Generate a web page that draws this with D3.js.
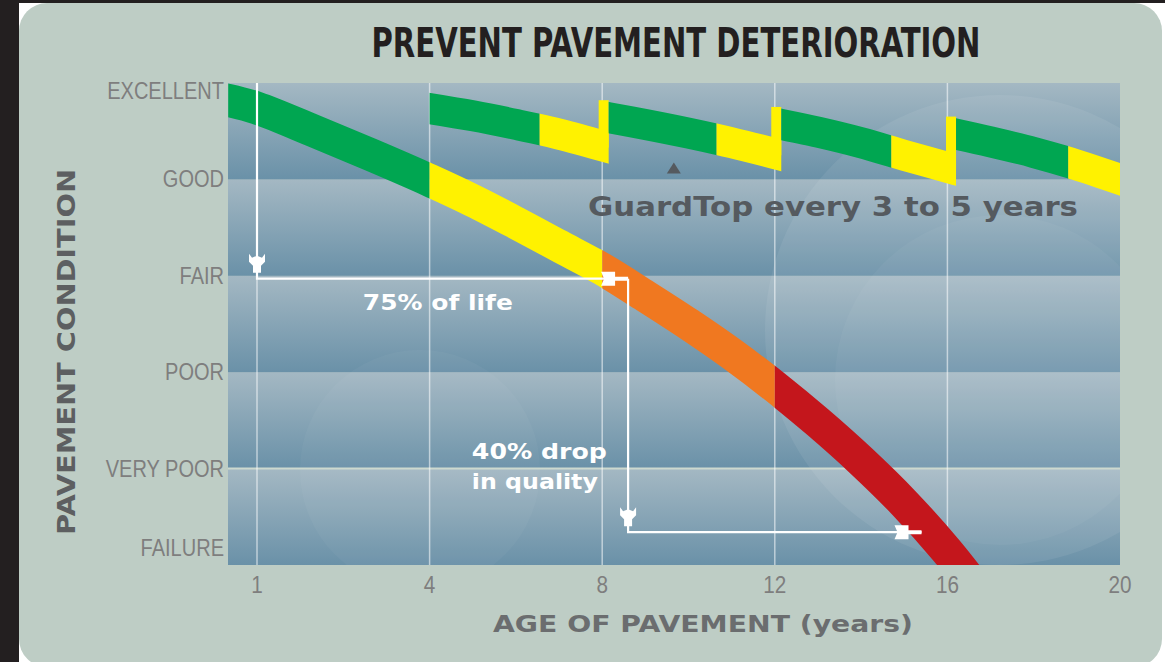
<!DOCTYPE html>
<html>
<head>
<meta charset="utf-8">
<script src="https://cdn.jsdelivr.net/npm/d3@7"></script>
<style>
  html, body { margin: 0; padding: 0; background: #fff; }
  svg { display: block; }
</style>
</head>
<body>
<svg id="chart" width="1165" height="662"></svg>
<script>
// Condition levels, from 0 (failure) up to 5 (excellent)
const conditions = ['FAILURE', 'VERY POOR', 'POOR', 'FAIR', 'GOOD', 'EXCELLENT'];
const ageTicks = [1, 4, 8, 12, 16, 20];

// Untreated pavement: [age in years, condition]
const untreated = [
  [0.5, 4.82], [1, 4.74], [2, 4.5], [3, 4.25], [4, 3.99], [5, 3.78], [6, 3.55],
  [7, 3.31], [8, 3.07], [9, 2.79], [10, 2.5], [11, 2.19], [12, 1.85], [13, 1.48],
  [14, 1.08], [15, 0.64], [16, 0.14], [16.6, -0.2]
];
const stageBreaks = [0.5, 4, 8, 12, 20];
const stageColors = ['#00a651', '#fff200', '#f07820', '#c4161c'];

// GuardTop cycles: each resurfacing starts a new curve
const guardTop = [
  [[4, 4.735], [5, 4.66], [6, 4.57], [7, 4.47], [8.15, 4.33]],
  [[8.15, 4.64], [9, 4.57], [10, 4.48], [11, 4.38], [12.15, 4.25]],
  [[12.15, 4.57], [13, 4.49], [14, 4.38], [15, 4.25], [16.2, 4.1]],
  [[16.2, 4.47], [17, 4.39], [18, 4.28], [19, 4.15], [20, 4.0]]
];
const guardTurnYellow = [6.55, 10.65, 14.7, 18.8];

// Annotation arrows
const lifeArrow = [[1, 5], [1, 2.97], [8.6, 2.97]];
const dropArrow = [[8.6, 2.97], [8.6, 0.34], [15.4, 0.34]];

const svg = d3.select('#chart');
const W = 1165, H = 662;
const plot = { left: 228, right: 1120, top: 83, bottom: 565 };

// x axis: tick years are evenly spaced on the page
const tickStep = (plot.right - 257) / (ageTicks.length - 1);
const x = d3.scaleLinear()
  .domain(ageTicks)
  .range(ageTicks.map((d, i) => 257 + i * tickStep));
// ages below 1 continue the first segment
const xs = t => t < 1 ? x(1) - (1 - t) * tickStep / 3 : x(t);

const y = d3.scaleLinear().domain([0, 5]).range([plot.bottom, plot.top]);

// page frame
svg.append('rect').attr('width', W).attr('height', H).attr('fill', '#fff');
svg.append('rect').attr('width', 19).attr('height', H).attr('fill', '#231f20');
svg.append('rect').attr('width', W).attr('height', 3).attr('fill', '#231f20');
svg.append('rect')
  .attr('x', 19).attr('y', 3).attr('width', 1143).attr('height', 664)
  .attr('rx', 28).attr('fill', '#becdc5');

const defs = svg.append('defs');
const grad = defs.append('linearGradient').attr('id', 'band')
  .attr('x1', 0).attr('y1', 0).attr('x2', 0).attr('y2', 1);
grad.append('stop').attr('offset', 0).attr('stop-color', '#a4b8c3');
grad.append('stop').attr('offset', 1).attr('stop-color', '#6a91a8');

defs.append('clipPath').attr('id', 'plotClip')
  .append('rect')
  .attr('x', plot.left).attr('y', plot.top)
  .attr('width', plot.right - plot.left).attr('height', plot.bottom - plot.top);

// condition bands
svg.append('g').selectAll('rect')
  .data(d3.range(5))
  .join('rect')
  .attr('x', plot.left)
  .attr('y', d => y(d + 1))
  .attr('width', plot.right - plot.left)
  .attr('height', d => y(d) - y(d + 1))
  .attr('fill', 'url(#band)');

// faint watermark shapes
const wm = svg.append('g').attr('clip-path', 'url(#plotClip)').attr('fill', '#fff');
wm.append('circle').attr('cx', 1000).attr('cy', 330).attr('r', 235).attr('opacity', 0.07);
wm.append('circle').attr('cx', 1000).attr('cy', 380).attr('r', 165).attr('opacity', 0.04);
wm.append('circle').attr('cx', 420).attr('cy', 470).attr('r', 120).attr('opacity', 0.035);

// light line at the very poor level
svg.append('line')
  .attr('x1', plot.left).attr('x2', plot.right)
  .attr('y1', y(1)).attr('y2', y(1))
  .attr('stroke', '#cdd9cf').attr('stroke-width', 2);

// vertical grid lines
svg.append('g').selectAll('line')
  .data(ageTicks.slice(0, -1))
  .join('line')
  .attr('x1', d => x(d)).attr('x2', d => x(d))
  .attr('y1', plot.top).attr('y2', plot.bottom)
  .attr('stroke', '#fff').attr('stroke-opacity', 0.55).attr('stroke-width', 1.5);

const line = d3.line()
  .x(d => xs(d[0]))
  .y(d => y(d[1]))
  .curve(d3.curveCatmullRom.alpha(0.5));

// clip an x range of years inside the plot
let clipId = 0;
function rangeClip(a, b) {
  const id = 'c' + (clipId++);
  defs.append('clipPath').attr('id', id)
    .append('rect')
    .attr('x', Math.max(xs(a), plot.left)).attr('y', plot.top)
    .attr('width', Math.min(xs(b), plot.right) - Math.max(xs(a), plot.left))
    .attr('height', plot.bottom - plot.top);
  return 'url(#' + id + ')';
}

// untreated curve, coloured by stage
const curves = svg.append('g');
stageColors.forEach((c, i) => {
  curves.append('path')
    .datum(untreated)
    .attr('clip-path', rangeClip(stageBreaks[i], stageBreaks[i + 1]))
    .attr('d', line)
    .attr('fill', 'none')
    .attr('stroke', c)
    .attr('stroke-width', 33)
    .attr('stroke-linecap', 'square');
});

// GuardTop cycles
const gsw = 31;
guardTop.forEach((seg, i) => {
  const start = seg[0][0], end = seg[seg.length - 1][0];
  [[start, guardTurnYellow[i], stageColors[0]], [guardTurnYellow[i], end, stageColors[1]]]
    .forEach(([a, b, c]) => {
      curves.append('path')
        .datum(seg)
        .attr('clip-path', rangeClip(a, b))
        .attr('d', line)
        .attr('fill', 'none')
        .attr('stroke', c)
        .attr('stroke-width', gsw)
        .attr('stroke-linecap', 'square');
    });
  const next = guardTop[i + 1];
  if (next) {
    const top = y(next[0][1]) - gsw / 2 - 2;
    curves.append('rect')
      .attr('x', xs(end) - 10).attr('width', 10)
      .attr('y', top)
      .attr('height', y(seg[seg.length - 1][1]) - top)
      .attr('fill', stageColors[1]);
  }
});

// annotation arrows
const plain = d3.line().x(d => xs(d[0])).y(d => y(d[1]));
const downHead = 'M-8,-19L-5,-15L0,-17L5,-15L8,-19L8,-11L4,-7L4,0L-4,0L-4,-7L-8,-11Z';
const rightHead = 'M-27,-7L-13,-7L-13,-2L0,-2L0,2L-13,2L-13,7L-27,7L-24,0Z';
[lifeArrow, dropArrow].forEach(a => {
  svg.append('path').datum(a).attr('d', plain)
    .attr('fill', 'none').attr('stroke', '#fff').attr('stroke-width', 2.2);
  svg.append('path').attr('d', downHead).attr('fill', '#fff')
    .attr('transform', `translate(${xs(a[1][0])},${y(a[1][1]) - 6})`);
  svg.append('path').attr('d', rightHead).attr('fill', '#fff')
    .attr('transform', `translate(${xs(a[2][0])},${y(a[2][1])})`);
});

const boldFont = "'DejaVu Sans', Verdana, sans-serif";
svg.append('text')
  .attr('x', xs(2.84)).attr('y', y(2.65))
  .attr('font-family', boldFont).attr('font-weight', 'bold').attr('font-size', 22)
  .attr('fill', '#fff').attr('textLength', 150).attr('lengthAdjust', 'spacingAndGlyphs')
  .text('75% of life');
svg.append('text')
  .attr('x', xs(4.98)).attr('y', y(1.1))
  .attr('font-family', boldFont).attr('font-weight', 'bold').attr('font-size', 22)
  .attr('fill', '#fff').attr('textLength', 135).attr('lengthAdjust', 'spacingAndGlyphs')
  .text('40% drop');
svg.append('text')
  .attr('x', xs(4.98)).attr('y', y(0.79))
  .attr('font-family', boldFont).attr('font-weight', 'bold').attr('font-size', 22)
  .attr('fill', '#fff').attr('textLength', 126).attr('lengthAdjust', 'spacingAndGlyphs')
  .text('in quality');

svg.append('text')
  .attr('x', xs(7.67)).attr('y', y(3.62))
  .attr('font-family', boldFont).attr('font-weight', 'bold').attr('font-size', 27)
  .attr('fill', '#555a5f').attr('textLength', 490).attr('lengthAdjust', 'spacingAndGlyphs')
  .text('GuardTop every 3 to 5 years');
svg.append('path')
  .attr('d', 'M0,-11L7,0L-7,0Z')
  .attr('fill', '#555a5f')
  .attr('transform', `translate(${xs(9.66)},${y(4.06)})`);

// axis labels
const tickFont = "'Liberation Sans', Arial, sans-serif";
const squeeze = k => function () {
  const w = this.getComputedTextLength();
  d3.select(this).attr('textLength', w * k).attr('lengthAdjust', 'spacingAndGlyphs');
};

svg.append('g').selectAll('text')
  .data(conditions)
  .join('text')
  .attr('x', 224)
  .attr('y', (d, i) => Math.max(plot.top + 8, Math.min(plot.bottom - 17, y(i))) + 8)
  .attr('text-anchor', 'end')
  .attr('font-family', tickFont).attr('font-size', 23)
  .attr('fill', '#7e7e7e')
  .text(d => d)
  .each(squeeze(0.87));

svg.append('g').selectAll('text')
  .data(ageTicks)
  .join('text')
  .attr('x', d => x(d))
  .attr('y', 593)
  .attr('text-anchor', 'middle')
  .attr('font-family', tickFont).attr('font-size', 23)
  .attr('fill', '#7e7e7e')
  .text(d => d)
  .each(squeeze(0.9));

svg.append('text')
  .attr('transform', `translate(75,${(plot.top + plot.bottom) / 2 + 28}) rotate(-90)`)
  .attr('text-anchor', 'middle')
  .attr('font-family', boldFont).attr('font-weight', 'bold').attr('font-size', 25)
  .attr('fill', '#5d5f61').attr('textLength', 366).attr('lengthAdjust', 'spacingAndGlyphs')
  .text('PAVEMENT CONDITION');

svg.append('text')
  .attr('x', 703).attr('y', 632)
  .attr('text-anchor', 'middle')
  .attr('font-family', boldFont).attr('font-weight', 'bold').attr('font-size', 23)
  .attr('fill', '#6b6d6f').attr('textLength', 420).attr('lengthAdjust', 'spacingAndGlyphs')
  .text('AGE OF PAVEMENT (years)');

svg.append('text')
  .attr('x', 676).attr('y', 57)
  .attr('text-anchor', 'middle')
  .attr('font-family', "'DejaVu Sans Condensed', 'Liberation Sans Narrow', 'DejaVu Sans', sans-serif")
  .attr('font-weight', 'bold').attr('font-size', 40)
  .attr('fill', '#231f20').attr('textLength', 609).attr('lengthAdjust', 'spacingAndGlyphs')
  .text('PREVENT PAVEMENT DETERIORATION');
</script>
</body>
</html>
